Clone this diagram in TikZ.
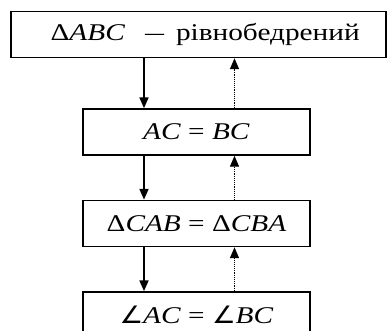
\documentclass[tikz,border=0pt]{standalone}
\usepackage{fontspec}
\setmainfont[FakeStretch=1.22]{Liberation Serif}
\newfontfamily\kutfont[FakeStretch=1.1]{DejaVu Sans}
\usetikzlibrary{arrows.meta}

\newcommand{\kut}{{\kutfont ∠}}

\begin{document}
\begin{tikzpicture}[x=0.75pt,y=-0.75pt,
    blok/.style={draw,line width=1.3pt,inner sep=0pt,minimum height=34.5pt,
        font=\fontsize{18}{20}\selectfont},
    vpered/.style={line width=1.2pt,-{Triangle[length=8pt,width=6.75pt]}},
    nazad/.style={line width=0.7pt,dash pattern=on 0.7pt off 0.7pt,
        -{Triangle[length=8pt,width=6.75pt]}}]
\useasboundingbox (0,0) rectangle (387,331);

% bloky
\node[blok,minimum width=281pt] (rivnobed) at (198.5,34.5)
    {\hspace{10pt}Δ\textit{ABC}\hspace{15pt}\scalebox{0.65}[1]{—}\hspace{9pt}рівнобедрений};
\node[blok,minimum width=170pt] (storony) at (196.5,132) {\textit{AC} = \textit{BC}};
\node[blok,minimum width=170pt] (trykutnyky) at (196.5,223.5)
    {Δ\textit{CAB} = Δ\textit{CBA}};
\node[blok,minimum width=170pt] (kuty) at (196.5,315)
    {\kut\textit{AC} = \kut\textit{BC}};

% strilky
\coordinate (vnyz) at (144,0);
\coordinate (vgoru) at (234.5,0);
\draw[vpered] (rivnobed.south -| vnyz) -- (storony.north -| vnyz);
\draw[vpered] (storony.south -| vnyz) -- (trykutnyky.north -| vnyz);
\draw[vpered] (trykutnyky.south -| vnyz) -- (kuty.north -| vnyz);
\draw[nazad] (storony.north -| vgoru) -- (rivnobed.south -| vgoru);
\draw[nazad] (trykutnyky.north -| vgoru) -- (storony.south -| vgoru);
\draw[nazad] (kuty.north -| vgoru) -- (trykutnyky.south -| vgoru);
\end{tikzpicture}
\end{document}
